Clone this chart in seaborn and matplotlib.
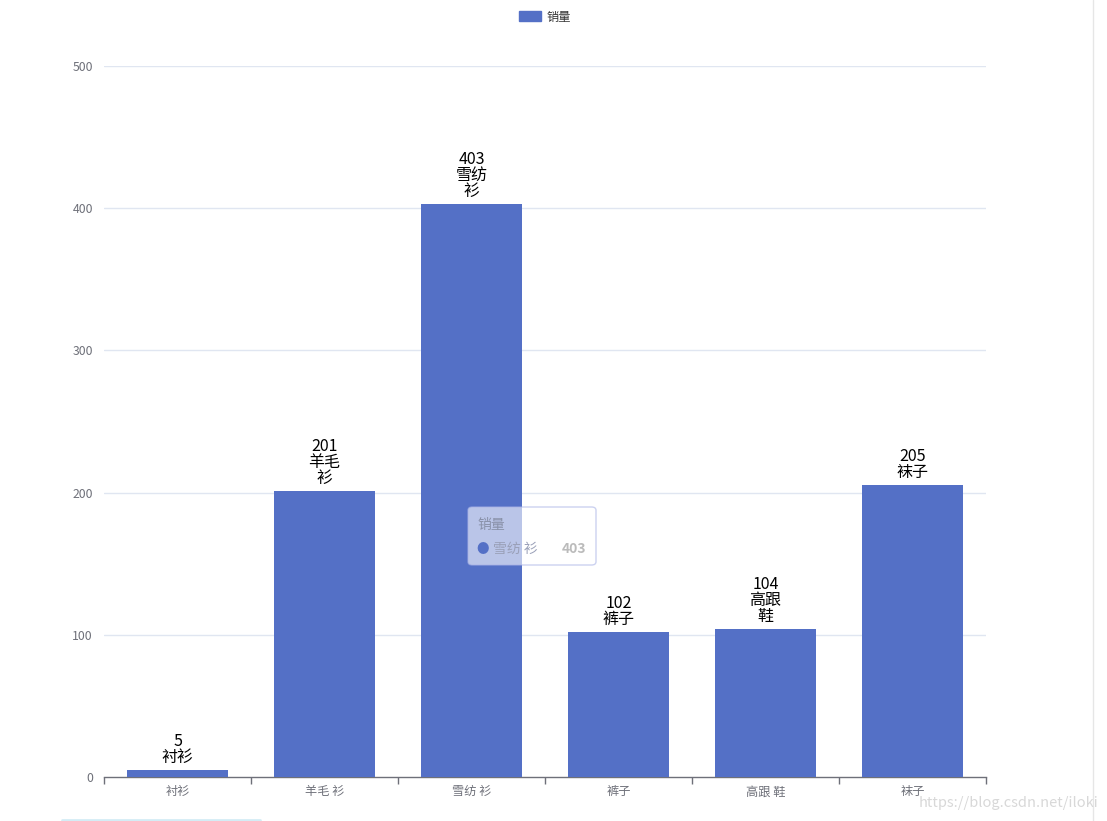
import matplotlib
matplotlib.use("Agg")
import matplotlib.pyplot as plt
import seaborn as sns
import pandas as pd
from matplotlib.patches import FancyBboxPatch, Patch

categories = ["衬衫", "羊毛 衫", "雪纺 衫", "裤子", "高跟 鞋", "袜子"]
label_names = ["衬衫", "羊毛\n衫", "雪纺\n衫", "裤子", "高跟\n鞋", "袜子"]
values = [5, 201, 403, 102, 104, 205]
series_name = "销量"
y_ticks = [0, 100, 200, 300, 400, 500]

sns.set_theme(style="white")
plt.rcParams['font.family'] = ['Noto Sans CJK SC', 'DejaVu Sans']

W, H = 1107, 821
fig = plt.figure(figsize=(W / 100, H / 100), dpi=100)
ax = fig.add_axes([104 / W, 1 - 777 / H, (986 - 104) / W, (777 - 66) / H])

bar_color = "#5470c6"
df = pd.DataFrame({"cat": categories, "val": values})
sns.barplot(data=df, x="cat", y="val", color=bar_color, width=0.69,
            saturation=1, ax=ax, zorder=3, linewidth=0)

ax.set_yticks(y_ticks)
ax.set_yticklabels([str(t) for t in y_ticks])
ax.set_xticks([i - 0.5 for i in range(len(categories) + 1)], minor=True)
ax.set_xticks(range(len(categories)))
ax.set_xticklabels(categories)
ax.set_ylim(0, 500)
ax.set_xlim(-0.5, len(categories) - 0.5)
ax.set_xlabel("")
ax.set_ylabel("")
for t in y_ticks[1:]:
    ax.axhline(t, color="#E0E6F1", lw=1, zorder=0)
for s in ["top", "right", "left"]:
    ax.spines[s].set_visible(False)
ax.spines["bottom"].set_color("#6E7079")
ax.spines["bottom"].set_linewidth(1)
ax.tick_params(axis="y", length=0, labelsize=8.8, labelcolor="#6E7079", pad=8)
ax.tick_params(axis="x", which="major", length=0, labelsize=8.8,
               labelcolor="#6E7079", pad=6)
ax.tick_params(axis="x", which="minor", length=5, color="#6E7079",
               direction="out", width=1, bottom=True)

# bar labels
for i, (v, n) in enumerate(zip(values, label_names)):
    ax.annotate(f"{v}\n{n}", xy=(i, v), xytext=(0, 3), textcoords="offset points",
                ha="center", va="bottom", fontsize=11.5, color="#000000",
                linespacing=0.92, zorder=5)

# legend
handle = Patch(facecolor=bar_color, edgecolor=bar_color, label=series_name)
fig.legend(handles=[handle], loc="center", bbox_to_anchor=(545 / W, 1 - 17 / H),
           frameon=False, fontsize=8.8, handlelength=1.8, handleheight=0.9,
           handletextpad=0.4, labelcolor="#333333")

# tooltip overlay
tx0, ty0, tx1, ty1 = 468, 507, 596, 565
box = FancyBboxPatch((tx0 / W, 1 - ty1 / H), (tx1 - tx0) / W, (ty1 - ty0) / H,
                     boxstyle="round,pad=0,rounding_size=0.004",
                     transform=fig.transFigure, facecolor="white", alpha=0.6,
                     edgecolor="#aab4e6", lw=1, zorder=10)
fig.patches.append(box)
fig.text(477 / W, 1 - 525 / H, series_name, fontsize=10, color="#8890a8",
         va="center", ha="left", zorder=11)
fig.text(483 / W, 1 - 549 / H, "●", fontsize=9, color=bar_color, va="center",
         ha="center", zorder=11)
fig.text(493 / W, 1 - 549 / H, categories[2], fontsize=10, color="#9aa0b8",
         va="center", ha="left", zorder=11)
fig.text(586 / W, 1 - 549 / H, str(values[2]), fontsize=10, color="#bbbbbb",
         fontweight="bold", va="center", ha="right", zorder=11)

# watermark
fig.text(1098 / W, 1 - 803 / H, "https://blog.csdn.net/iloki", fontsize=10.5,
         color="#d8d8d8", ha="right", va="center")

# bottom-left light strip and right border
fig.add_artist(plt.Line2D([62 / W, 260 / W], [1 - 819.5 / H] * 2,
                          transform=fig.transFigure, color="#d4ecf5", lw=2))
fig.add_artist(plt.Line2D([1093 / W] * 2, [0, 1], transform=fig.transFigure,
                          color="#e6e6e6", lw=1))

fig.savefig("out.png", dpi=100)
